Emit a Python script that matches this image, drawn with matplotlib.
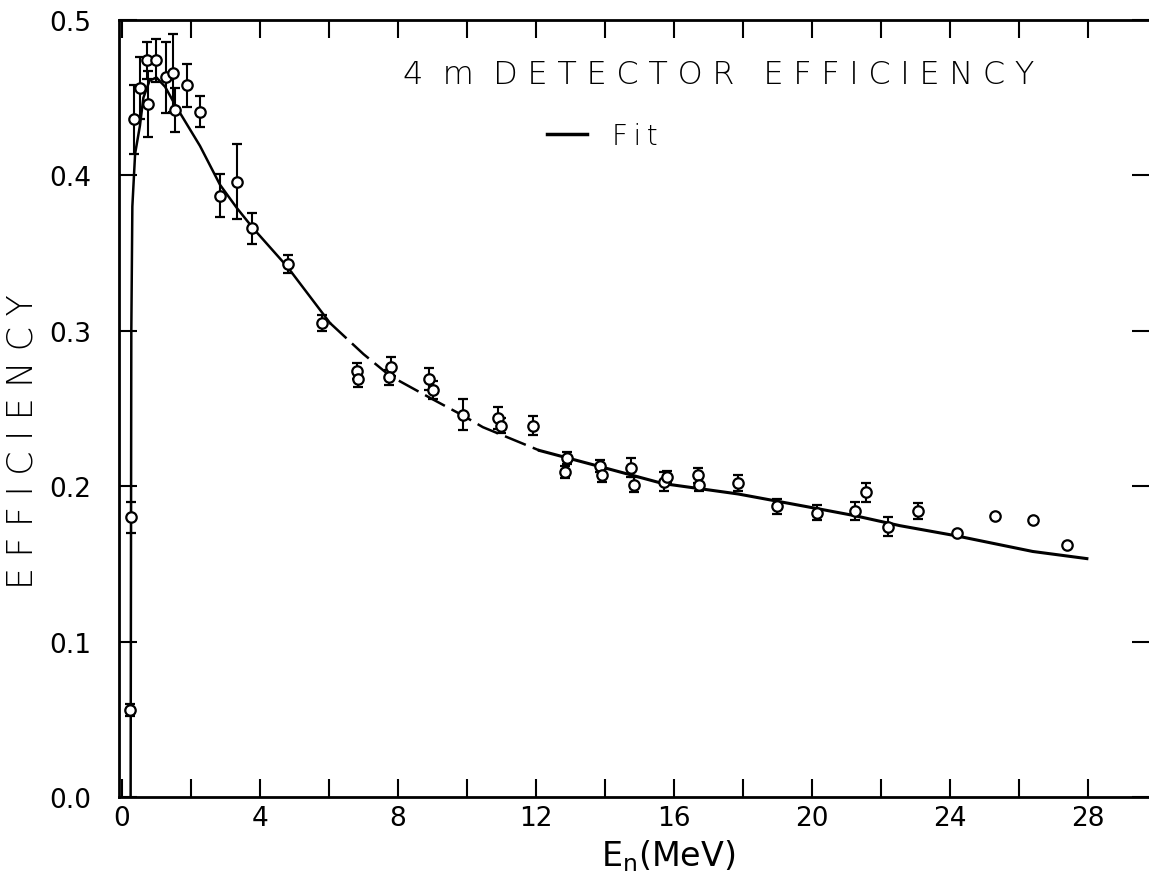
import numpy as np
import matplotlib
matplotlib.use("Agg")
import matplotlib.pyplot as plt

# ---- data ----
energy = [0.23, 0.25, 0.36, 0.52, 0.72, 0.75, 0.99, 1.28, 1.47, 1.54, 1.88, 2.26,
          2.84, 3.33, 3.77, 4.81, 5.80, 6.82, 6.84, 7.80, 7.75, 8.90, 9.02, 9.88,
          10.9, 11.0, 11.9, 12.9, 12.85, 13.85, 13.9, 14.75, 14.85, 15.7, 15.8,
          16.7, 16.72, 17.86, 19.0, 20.15, 21.25, 21.57, 22.2, 23.07,
          24.2, 25.3, 26.4, 27.4]
efficiency = [0.056, 0.180, 0.436, 0.456, 0.474, 0.446, 0.474, 0.463, 0.466, 0.442, 0.458, 0.441,
              0.387, 0.396, 0.366, 0.343, 0.305, 0.274, 0.269, 0.277, 0.270, 0.269, 0.262, 0.246,
              0.244, 0.239, 0.239, 0.218, 0.209, 0.213, 0.207, 0.212, 0.201, 0.203, 0.206,
              0.207, 0.201, 0.202, 0.187, 0.183, 0.184, 0.196, 0.174, 0.184,
              0.170, 0.181, 0.178, 0.162]
eff_err = [0.004, 0.010, 0.022, 0.020, 0.012, 0.021, 0.014, 0.023, 0.025, 0.014, 0.014, 0.010,
           0.014, 0.024, 0.010, 0.006, 0.005, 0.005, 0.005, 0.006, 0.005, 0.007, 0.006, 0.010,
           0.007, 0.005, 0.006, 0.004, 0.004, 0.004, 0.004, 0.006, 0.005, 0.006, 0.004,
           0.005, 0.004, 0.005, 0.005, 0.005, 0.006, 0.006, 0.006, 0.005,
           0.0, 0.0, 0.0, 0.0]

fit_energy = [0.25, 0.27, 0.30, 0.38, 0.52, 0.62, 0.80, 1.00, 1.25, 1.55, 2.26, 2.84,
              3.33, 3.80, 4.80, 6.03, 7.00, 7.77, 9.00, 9.88, 10.46, 12.10, 13.86,
              15.68, 17.86, 20.15, 21.25, 22.55, 24.20, 26.40, 27.97]
fit_eff = [0.000, 0.300, 0.380, 0.414, 0.432, 0.450, 0.461, 0.463, 0.457, 0.445, 0.419, 0.394,
           0.379, 0.366, 0.341, 0.305, 0.285, 0.271, 0.256, 0.2455, 0.238, 0.223, 0.2126,
           0.2017, 0.195, 0.1856, 0.181, 0.1746, 0.168, 0.158, 0.1534]

x_ticks = [0, 4, 8, 12, 16, 20, 24, 28]
y_ticks = [0.0, 0.1, 0.2, 0.3, 0.4, 0.5]

plt.rcParams["font.family"] = ["DejaVu Sans"]

# ---- figure ----
fig = plt.figure(figsize=(11.49, 8.87), dpi=100)
ax = fig.add_axes([119/1149, 1 - 798/887, (1150 - 119)/1149, (798 - 21)/887])

E = np.array(energy)
V = np.array(efficiency)
S = np.array(eff_err)
fe = np.array(fit_energy)
fv = np.array(fit_eff)

# fit line: solid, with a broken (dashed-looking) section in the middle
solid1 = fe <= 6.03
dashed = (fe >= 6.03) & (fe <= 12.10)
solid2 = fe >= 12.10
ax.plot(fe[solid1], fv[solid1], color="black", lw=1.8, zorder=2)
ax.plot(fe[dashed], fv[dashed], color="black", lw=1.8, dashes=(9, 3), zorder=2)
ax.plot(fe[solid2], fv[solid2], color="black", lw=2.2, zorder=2)

has_err = S > 0
ax.errorbar(E[has_err], V[has_err], yerr=S[has_err], fmt="o", mfc="white", mec="black",
            ms=7.5, mew=1.6, ecolor="black", elinewidth=1.5, capsize=3.5, capthick=1.8,
            zorder=3)
ax.plot(E[~has_err], V[~has_err], "o", mfc="white", mec="black", ms=7.5, mew=1.6, zorder=3)

ax.set_xlim(-0.087, 29.8)
ax.set_ylim(0, 0.5)

ax.set_xticks(x_ticks)
ax.set_xticks(np.arange(2, 30, 4), minor=True)
ax.set_xticklabels([str(t) for t in x_ticks])
ax.set_yticks(y_ticks)
ax.set_yticklabels([f"{t:.1f}" for t in y_ticks])

ax.tick_params(axis="both", which="both", direction="in", top=True, right=True,
               width=1.5, labelsize=19)
ax.tick_params(axis="both", which="major", length=13)
ax.tick_params(axis="x", which="minor", length=13)
ax.tick_params(axis="x", pad=6)
ax.tick_params(axis="y", pad=20)
for sp in ax.spines.values():
    sp.set_linewidth(2.0)

ax.set_xlabel(r"$\mathregular{E_n}$(MeV)", fontsize=24)
ax.xaxis.set_label_coords((668 - 119) / (1150 - 119), -(838 - 798) / (798 - 21))
ax.xaxis.label.set_va("top")

sp2 = "\u2009\u200a"
ylab = sp2.join("EFFICIENCY")
ax.set_ylabel(ylab, fontsize=25, fontweight="light")
ax.yaxis.set_label_coords(-(119 - 40) / (1150 - 119), (798 - 442) / (798 - 21))

title = "4" + sp2 * 2 + "m" + sp2 * 2 + sp2.join("DETECTOR") + sp2 * 3 + sp2.join("EFFICIENCY")
fig.text(719/1149, 1 - 75/887, title, fontsize=23, ha="center", va="center",
         fontweight="light")

# legend "— Fit"
fig.text(612/1149, 1 - 137/887, "F\u2009i\u2009t", fontsize=20, ha="left", va="center",
         fontweight="light")
fig.add_artist(plt.Line2D([547/1149, 587/1149], [1 - 135/887, 1 - 135/887],
                          color="black", lw=2.5))

fig.savefig("out.png", dpi=100)
